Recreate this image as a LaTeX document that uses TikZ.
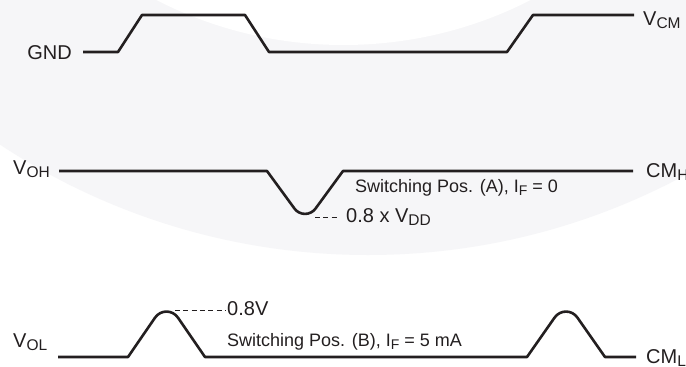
\documentclass[tikz,border=0pt]{standalone}
\usepackage{fontspec}
\usetikzlibrary{calc}
\setmainfont{Liberation Sans}
\definecolor{ink}{RGB}{35,31,32}
\definecolor{wm}{RGB}{246,246,248}
\newcommand{\subtxt}[2][15.5]{\raisebox{-3pt}{\fontsize{#1}{#1}\selectfont #2}}
\tikzset{
  wave/.style={line width=2.6pt, draw=ink, line join=round},
  guide/.style={line width=1pt, draw=ink, dash pattern=on 5pt off 3.3pt},
  lbl/.style={inner sep=0pt, font=\fontsize{20}{24}\selectfont, text=ink},
  note/.style={inner sep=0pt, font=\fontsize{18}{22}\selectfont, text=ink}
}
\begin{document}
\begin{tikzpicture}[x=1pt,y=-1pt]
\useasboundingbox (0,0) rectangle (686,367);
% faint watermark arc
\begin{scope}
  \clip (0,0) rectangle (686,367);
  \fill[white] (0,0) rectangle (686,367);
  \fill[wm] (368,-413) circle [radius=668pt];
  \fill[white] (343.5,-366) circle [radius=411pt];
\end{scope}
% waveform 1
\coordinate (g0) at (83,52);
\coordinate (g1) at (118,52);
\coordinate (g2) at (142,15);
\coordinate (g3) at (245,15);
\coordinate (g4) at (269,52);
\coordinate (g5) at (507,52);
\coordinate (g6) at (533,15);
\coordinate (g7) at (634,15);
\draw[wave] (g0) -- (g1) -- (g2) -- (g3) -- (g4) -- (g5) -- (g6) -- (g7);
\node[lbl, anchor=base east] (gnd) at (72,59) {GND};
\node[lbl, anchor=base west] (vcm) at (643,25) {V\subtxt{CM}};
% waveform 2
\coordinate (h0) at (59,171);
\coordinate (h1) at (267,171);
\coordinate (h2) at (294.5,208.6);
\coordinate (hA) at (305,223);
\coordinate (h3) at (315.5,208.6);
\coordinate (h4) at (343,171);
\coordinate (h5) at (633,171);
\draw[wave] (h0) -- (h1) -- (h2) .. controls ($(h2)!0.49!(hA)$) and ($(h3)!0.49!(hA)$) .. (h3) -- (h4) -- (h5);
\coordinate (d1) at (315,217);
\coordinate (d2) at (338,217);
\draw[guide] (d1) -- (d2);
\node[lbl, anchor=base west] (voh) at (13,174) {V\subtxt{OH}};
\node[lbl, anchor=base west] (cmh) at (646,177) {CM\subtxt{H}};
\node[lbl, anchor=base west] (vdd) at (346,222) {0.8 x V\subtxt{DD}};
\node[note, anchor=base west] (swa) at (355,192) {Switching Pos. (A), I\subtxt[14]{F} = 0};
% waveform 3
\coordinate (l0) at (58,357);
\coordinate (l1) at (128,357);
\coordinate (l2) at (155,317.7);
\coordinate (lA) at (166.5,301);
\coordinate (l3) at (178,317.7);
\coordinate (l4) at (205,357);
\coordinate (l5) at (527,357);
\coordinate (l6) at (554.5,317.7);
\coordinate (lB) at (566,301);
\coordinate (l7) at (577.5,317.7);
\coordinate (l8) at (605,357);
\coordinate (l9) at (636,357);
\draw[wave] (l0) -- (l1) -- (l2) .. controls ($(l2)!0.49!(lA)$) and ($(l3)!0.49!(lA)$) .. (l3) -- (l4) -- (l5)
  -- (l6) .. controls ($(l6)!0.49!(lB)$) and ($(l7)!0.49!(lB)$) .. (l7) -- (l8) -- (l9);
\coordinate (e1) at (175,310);
\coordinate (e2) at (225,310);
\draw[guide] (e1) -- (e2);
\node[lbl, anchor=base west] (v08) at (227,315) {0.8V};
\node[lbl, anchor=base west] (vol) at (13,347) {V\subtxt{OL}};
\node[lbl, anchor=base west] (cml) at (646,363) {CM\subtxt{L}};
\node[note, anchor=base west] (swb) at (227,346) {Switching Pos. (B), I\subtxt[14]{F} = 5 mA};
\end{tikzpicture}
\end{document}
